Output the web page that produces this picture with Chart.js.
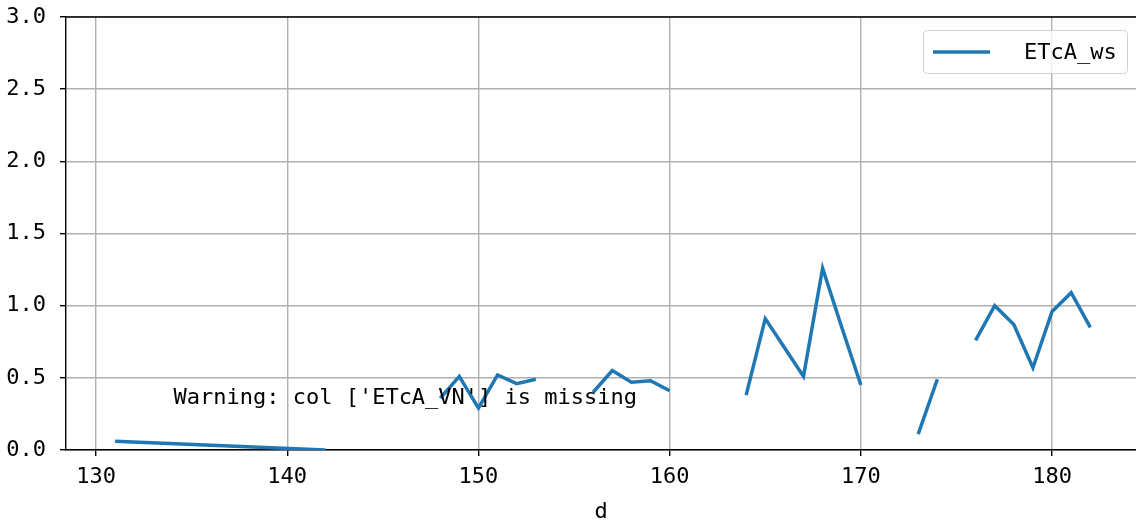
<!DOCTYPE html>
<html>
<head>
<meta charset="utf-8">
<script src="https://cdn.jsdelivr.net/npm/chart.js@4/dist/chart.umd.min.js"></script>
<style>
  html, body { margin: 0; padding: 0; background: #fff; }
  #wrap { width: 1136px; height: 521px; position: relative; }
</style>
</head>
<body>
<div id="wrap"><canvas id="chart"></canvas></div>
<script>
// day index (x) and ETcA_ws values, null = missing day (breaks the line)
var days = [131, 142, 143, 144, 145, 146, 147, 148, 149, 150, 151, 152, 153, 154, 155,
            156, 157, 158, 159, 160, 161, 162, 163, 164, 165, 166, 167, 168, 169, 170,
            171, 172, 173, 174, 175, 176, 177, 178, 179, 180, 181, 182];
var etcaWs = [0.06, 0.00, null, null, null, null, null, 0.36, 0.51, 0.29, 0.52, 0.46, 0.49, null, null,
              0.40, 0.55, 0.47, 0.48, 0.41, null, null, null, 0.38, 0.91, 0.71, 0.51, 1.26, 0.85, 0.45,
              null, null, 0.11, 0.49, null, 0.76, 1.00, 0.87, 0.57, 0.96, 1.09, 0.85];
var xTicks = [130, 140, 150, 160, 170, 180];
var seriesLabel = 'ETcA_ws';
var xTitle = 'd';
var warningText = "Warning: col ['ETcA_VN'] is missing";

var FONT = "'DejaVu Sans Mono', 'Liberation Mono', monospace";
var BLUE = '#1f77b4';

var points = days.map(function (d, i) { return { x: d, y: etcaWs[i] }; });

// top spine, warning note and boxed legend (matplotlib style)
var extras = {
    id: 'extras',
    afterDraw: function (chart) {
        var ctx = chart.ctx;
        var area = chart.chartArea;
        var xs = chart.scales.x, ys = chart.scales.y;
        ctx.save();

        // top spine
        ctx.strokeStyle = '#000';
        ctx.lineWidth = 1.4;
        ctx.beginPath();
        ctx.moveTo(area.left, area.top);
        ctx.lineTo(area.right, area.top);
        ctx.stroke();

        // warning text
        ctx.fillStyle = '#000';
        ctx.font = '22px ' + FONT;
        ctx.textBaseline = 'middle';
        ctx.textAlign = 'left';
        ctx.fillText(warningText, xs.getPixelForValue(134.05), ys.getPixelForValue(0.355));

        // legend box
        var bx = 923.5, by = 30.5, bw = 204, bh = 43, r = 4;
        ctx.beginPath();
        ctx.moveTo(bx + r, by);
        ctx.lineTo(bx + bw - r, by);
        ctx.arcTo(bx + bw, by, bx + bw, by + r, r);
        ctx.lineTo(bx + bw, by + bh - r);
        ctx.arcTo(bx + bw, by + bh, bx + bw - r, by + bh, r);
        ctx.lineTo(bx + r, by + bh);
        ctx.arcTo(bx, by + bh, bx, by + bh - r, r);
        ctx.lineTo(bx, by + r);
        ctx.arcTo(bx, by, bx + r, by, r);
        ctx.closePath();
        ctx.fillStyle = 'rgba(255,255,255,0.8)';
        ctx.fill();
        ctx.strokeStyle = '#d0d0d0';
        ctx.lineWidth = 1;
        ctx.stroke();

        ctx.strokeStyle = BLUE;
        ctx.lineWidth = 3.5;
        ctx.beginPath();
        ctx.moveTo(933, by + bh / 2);
        ctx.lineTo(990, by + bh / 2);
        ctx.stroke();

        ctx.fillStyle = '#000';
        ctx.fillText(seriesLabel, 1024, by + bh / 2 + 1);
        ctx.restore();
    }
};

new Chart(document.getElementById('chart'), {
    type: 'line',
    data: {
        datasets: [{
            label: seriesLabel,
            data: points,
            borderColor: BLUE,
            borderWidth: 3.5,
            pointRadius: 0,
            fill: false,
            spanGaps: false,
            tension: 0
        }]
    },
    options: {
        responsive: true,
        maintainAspectRatio: false,
        animation: false,
        layout: { padding: { top: 17, right: 0, left: 0, bottom: 0 } },
        plugins: {
            legend: { display: false },
            tooltip: { enabled: false }
        },
        scales: {
            x: {
                type: 'linear',
                min: 128.43,
                max: 184.39,
                afterBuildTicks: function (scale) {
                    scale.ticks = xTicks.map(function (v) { return { value: v }; });
                },
                afterFit: function (scale) {
                    scale.height = 71;
                    scale.paddingLeft = 0;
                    scale.paddingRight = 0;
                },
                grid: {
                    color: '#b0b0b0',
                    lineWidth: 1.4,
                    tickColor: '#000',
                    tickLength: 6
                },
                border: { color: '#000', width: 1.4 },
                ticks: {
                    color: '#000',
                    font: { family: FONT, size: 22 },
                    padding: 8,
                    maxRotation: 0,
                    autoSkip: false,
                    callback: function (v) { return String(v); }
                },
                title: {
                    display: true,
                    text: xTitle,
                    color: '#000',
                    font: { family: FONT, size: 22 },
                    padding: { top: 4, bottom: -4 }
                }
            },
            y: {
                min: 0,
                max: 3,
                afterFit: function (scale) {
                    scale.width = 66;
                    scale.paddingTop = 0;
                    scale.paddingBottom = 0;
                },
                grid: {
                    color: '#b0b0b0',
                    lineWidth: 1.4,
                    tickColor: '#000',
                    tickLength: 6
                },
                border: { color: '#000', width: 1.4 },
                ticks: {
                    stepSize: 0.5,
                    color: '#000',
                    font: { family: FONT, size: 22 },
                    padding: 14,
                    callback: function (v) { return v.toFixed(1); }
                }
            }
        }
    },
    plugins: [extras]
});
</script>
</body>
</html>
